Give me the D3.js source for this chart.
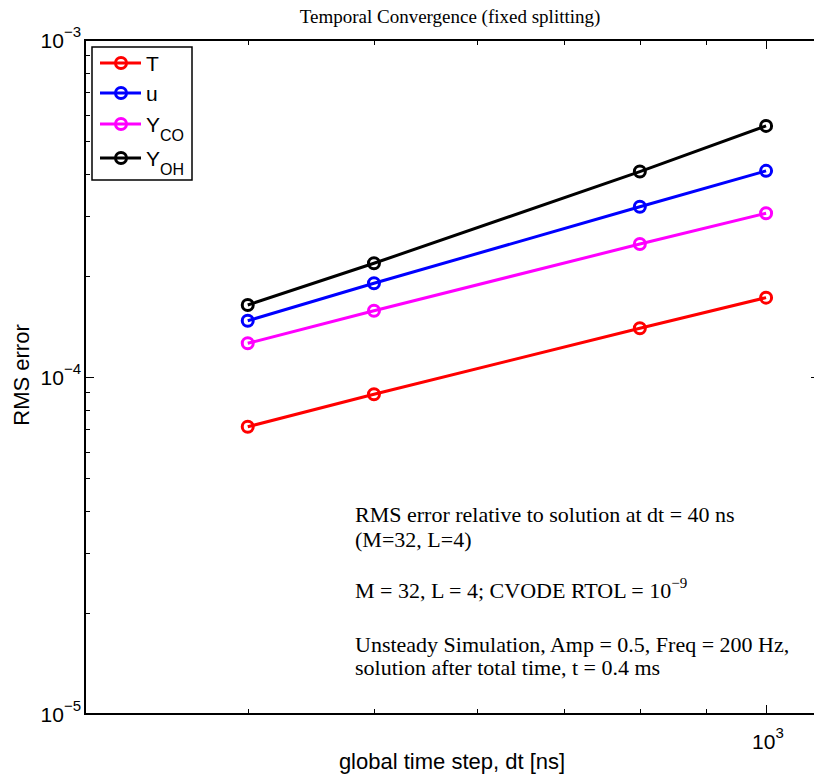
<!DOCTYPE html>
<html>
<head>
<meta charset="utf-8">
<script src="https://cdn.jsdelivr.net/npm/d3@7"></script>
<style>
  body { margin: 0; background: #fff; }
  svg { display: block; }
  .tick line { shape-rendering: crispEdges; }
</style>
</head>
<body>
<div id="chart"></div>
<script>
'use strict';

// data
var dtValues = [400, 500, 800, 1000];
var seriesNames = ['T', 'u', 'Y_CO', 'Y_OH'];
var seriesColors = ['#ff0000', '#0000ff', '#ff00ff', '#000000'];
var errT = [7.12e-5, 8.89e-5, 1.395e-4, 1.72e-4];
var errU = [1.469e-4, 1.897e-4, 3.20e-4, 4.09e-4];
var errYCO = [1.259e-4, 1.573e-4, 2.48e-4, 3.06e-4];
var errYOH = [1.636e-4, 2.175e-4, 4.07e-4, 5.56e-4];
var xMinorTicks = [400, 500, 600, 700, 800, 900];
var xMajorTicks = [1000];
var yMajorTicks = [1e-5, 1e-4, 1e-3];
var notes = [
  'RMS error relative to solution at dt = 40 ns',
  '(M=32, L=4)',
  'M = 32, L = 4; CVODE RTOL = 10',
  'Unsteady Simulation, Amp = 0.5, Freq = 200 Hz,',
  'solution after total time, t = 0.4 ms'
];

(function(){

var series = [errT, errU, errYCO, errYOH].map(function(vals, i){
  return { name: seriesNames[i], color: seriesColors[i], values: vals };
});

var W = 814, H = 775;
var mLeft = 85, mRight = 820, mTop = 40, mBottom = 714;

var svg = d3.select('#chart').append('svg')
  .attr('width', W).attr('height', H);

var x = d3.scaleLog().domain([300, 1100]).range([mLeft, mRight]);
var y = d3.scaleLog().domain([1e-5, 1e-3]).range([mBottom, mTop]);

var yMinor = [];
[1e-5, 1e-4].forEach(function(d){
  for (var k = 2; k <= 9; k++) yMinor.push(d * k);
});

var gAxes = svg.append('g');

// x ticks, bottom and top, pointing inward
function xAxisAt(gen, ypos, vals, size){
  gAxes.append('g')
    .attr('transform', 'translate(0,' + ypos + ')')
    .call(gen(x).tickValues(vals).tickSize(size).tickFormat(''))
    .call(function(g){
      g.select('.domain').remove();
      g.selectAll('.tick line').attr('stroke', '#000').attr('stroke-width', 1);
    });
}
xAxisAt(d3.axisBottom, mBottom, xMinorTicks, -5);
xAxisAt(d3.axisBottom, mBottom, xMajorTicks, -9);
xAxisAt(d3.axisTop, mTop, xMinorTicks, -5);
xAxisAt(d3.axisTop, mTop, xMajorTicks, -9);

function yAxisAt(gen, xpos, vals, size){
  gAxes.append('g')
    .attr('transform', 'translate(' + xpos + ',0)')
    .call(gen(y).tickValues(vals).tickSize(size).tickFormat(''))
    .call(function(g){
      g.select('.domain').remove();
      g.selectAll('.tick line').attr('stroke', '#000').attr('stroke-width', 1);
    });
}
yAxisAt(d3.axisLeft, mLeft, yMinor, -5);
yAxisAt(d3.axisLeft, mLeft, yMajorTicks, -9);
yAxisAt(d3.axisRight, mRight, yMinor, -5);
yAxisAt(d3.axisRight, mRight, yMajorTicks, -9);

// frame
svg.append('rect')
  .attr('x', mLeft).attr('y', mTop)
  .attr('width', mRight - mLeft).attr('height', mBottom - mTop)
  .attr('fill', 'none').attr('stroke', '#000').attr('stroke-width', 2);

// tick labels (10^n)
var labelFont = 'Liberation Sans, Arial, sans-serif';
yMajorTicks.forEach(function(v){
  var t = svg.append('text')
    .attr('x', mLeft - 4).attr('y', y(v) + 8)
    .attr('text-anchor', 'end')
    .style('font-family', labelFont).style('font-size', '21px');
  t.append('tspan').text('10');
  t.append('tspan').attr('dy', -11).style('font-size', '15px')
    .text('\u2212' + Math.round(-Math.log10(v)));
});
xMajorTicks.forEach(function(v){
  var t = svg.append('text')
    .attr('x', x(v) - 14).attr('y', y(1e-5) + 35)
    .style('font-family', labelFont).style('font-size', '21px');
  t.append('tspan').text('10');
  t.append('tspan').attr('dy', -11).style('font-size', '15px')
    .text(Math.round(Math.log10(v)));
});

// axis labels + title
svg.append('text')
  .attr('x', 452).attr('y', 769)
  .attr('text-anchor', 'middle')
  .style('font-family', labelFont).style('font-size', '22px')
  .text('global time step, dt [ns]');

svg.append('text')
  .attr('transform', 'translate(29,375) rotate(-90)')
  .attr('text-anchor', 'middle')
  .style('font-family', labelFont).style('font-size', '22px')
  .text('RMS error');

svg.append('text')
  .attr('x', 450).attr('y', 23)
  .attr('text-anchor', 'middle')
  .style('font-family', 'Liberation Serif, Times New Roman, serif').style('font-size', '19px')
  .text('Temporal Convergence (fixed splitting)');

// series
var line = d3.line()
  .x(function(d, i){ return x(dtValues[i]); })
  .y(function(d){ return y(d); });

var gSeries = svg.selectAll('.series').data(series).enter()
  .append('g').attr('class', 'series');

gSeries.append('path')
  .attr('d', function(d){ return line(d.values); })
  .attr('fill', 'none')
  .attr('stroke', function(d){ return d.color; })
  .attr('stroke-width', 3);

gSeries.selectAll('circle').data(function(d){
    return d.values.map(function(v, i){ return { v: v, dt: dtValues[i], color: d.color }; });
  }).enter().append('circle')
  .attr('cx', function(d){ return x(d.dt); })
  .attr('cy', function(d){ return y(d.v); })
  .attr('r', 5.5)
  .attr('fill', 'none')
  .attr('stroke', function(d){ return d.color; })
  .attr('stroke-width', 3);

// notes
var noteFont = 'Liberation Serif, Times New Roman, serif';
var noteY = [522, 547, 598, 652, 675];
notes.forEach(function(s, i){
  var t = svg.append('text')
    .attr('x', 355).attr('y', noteY[i])
    .style('font-family', noteFont).style('font-size', '22px')
    .text(s);
  if (i === 2) {
    t.append('tspan').attr('dy', -10).style('font-size', '15px').text('\u22129');
  }
});

// legend
var legend = svg.append('g');
legend.append('rect')
  .attr('x', 92).attr('y', 47).attr('width', 100).attr('height', 133)
  .attr('fill', '#fff').attr('stroke', '#000').attr('stroke-width', 1.5);

var legendY = [63, 93, 124, 158];
series.forEach(function(s, i){
  var ly = legendY[i];
  legend.append('line')
    .attr('x1', 100).attr('x2', 141).attr('y1', ly).attr('y2', ly)
    .attr('stroke', s.color).attr('stroke-width', 3);
  legend.append('circle')
    .attr('cx', 121).attr('cy', ly).attr('r', 5.5)
    .attr('fill', 'none').attr('stroke', s.color).attr('stroke-width', 3);
  var parts = s.name.split('_');
  var t = legend.append('text')
    .attr('x', 146).attr('y', ly + 8)
    .style('font-family', labelFont).style('font-size', '21px');
  t.append('tspan').text(parts[0]);
  if (parts[1]) {
    t.append('tspan').attr('dy', 9).style('font-size', '16px').text(parts[1]);
  }
});

})();
</script>
</body>
</html>
